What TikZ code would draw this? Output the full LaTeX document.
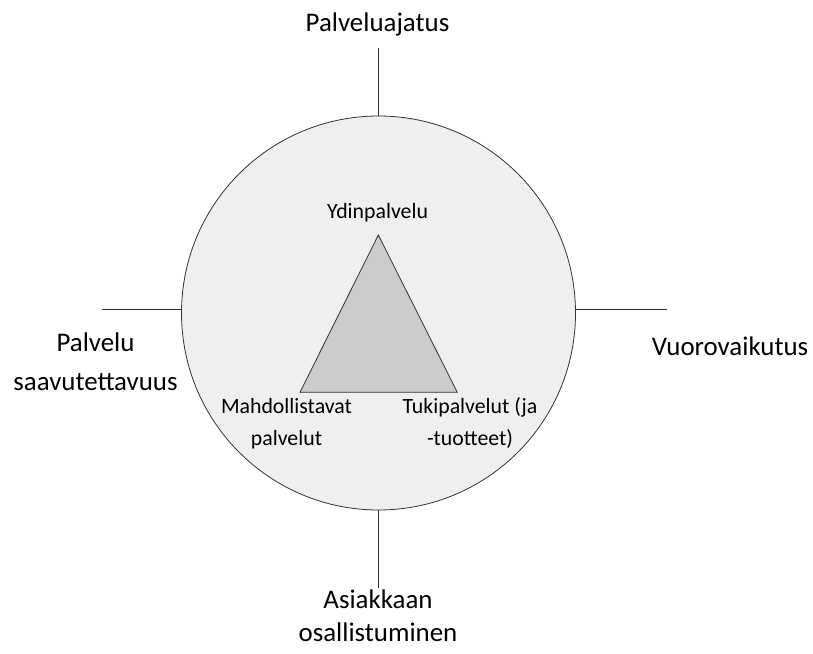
\documentclass[tikz,border=0pt]{standalone}
\usepackage{fontspec}
\setmainfont{Carlito}
\definecolor{ringfill}{HTML}{EFEFEF}
\definecolor{corefill}{HTML}{CCCCCC}
\definecolor{inkline}{HTML}{333333}
\begin{document}
\begin{tikzpicture}[x=1pt,y=-1pt,
  rule/.style={draw=inkline,line width=0.9pt},
  outerlabel/.style={font=\fontsize{26.9}{33}\selectfont,align=center,anchor=base,inner sep=0pt},
  innerlabel/.style={font=\fontsize{21.8}{32.5}\selectfont,align=center,anchor=base,inner sep=0pt}]
  \useasboundingbox[fill=white] (0,0) rectangle (813,653);

  % outer circle
  \node[circle,draw=inkline,line width=0.8pt,fill=ringfill,minimum size=394pt,inner sep=0pt] (circ) at (378.5,313) {};

  % spokes
  \coordinate (topend) at (378.3,47.5);
  \coordinate (botend) at (378.3,587.5);
  \coordinate (lftend) at (101.7,309.3);
  \coordinate (rgtend) at (666.7,309.3);
  \draw[rule] (topend) -- (topend |- circ.north);
  \draw[rule] (botend) -- (botend |- circ.south);
  \draw[rule] (lftend) -- (circ.west |- lftend);
  \draw[rule] (rgtend) -- (circ.east |- rgtend);

  % inner triangle
  \coordinate (apex) at (378.3,235);
  \coordinate (bl) at (300,392.3);
  \coordinate (br) at (457.3,392.3);
  \draw[draw=inkline,line width=0.8pt,fill=corefill,line join=miter] (apex) -- (bl) -- (br) -- cycle;

  % outer labels
  \node[outerlabel] (ajatus) at (377.5,31.7) {Palveluajatus};
  \node[outerlabel] (saav1) at (95.5,351.7) {Palvelu};
  \node[outerlabel] (saav2) at (95.5,390) {saavutettavuus};
  \node[outerlabel] (vuoro) at (730,355) {Vuorovaikutus};
  \node[outerlabel] (asiak1) at (378,608.3) {Asiakkaan};
  \node[outerlabel] (asiak2) at (378,641.7) {osallistuminen};

  % inner labels
  \node[innerlabel] (ydin) at (377.5,218.3) {Ydinpalvelu};
  \node[innerlabel] (mahd1) at (286.5,413.3) {Mahdollistavat};
  \node[innerlabel] (mahd2) at (286.5,445.7) {palvelut};
  \node[innerlabel] (tuki1) at (470,413.3) {Tukipalvelut (ja};
  \node[innerlabel] (tuki2) at (470,445.7) {-tuotteet)};
\end{tikzpicture}
\end{document}
